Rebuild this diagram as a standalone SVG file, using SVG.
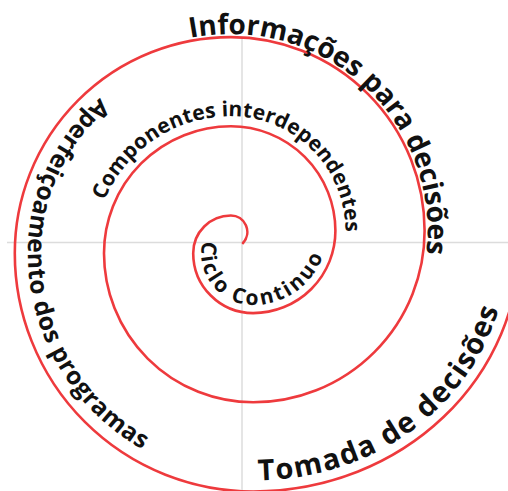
<svg xmlns="http://www.w3.org/2000/svg" xmlns:xlink="http://www.w3.org/1999/xlink" width="508" height="491" viewBox="0 0 508 491">
<style>
.axis{stroke:#dcdcdc;stroke-width:1.5;fill:none}
.spiral{stroke:#ee3a3d;stroke-width:2.6;fill:none;stroke-linecap:round}
.lbl{font-family:'Open Sans','Noto Sans','DejaVu Sans',sans-serif;font-weight:700;fill:#111}
</style>
<defs>
<path id="p1" d="M 11.8 253.15 A 219.05 219.05 0 0 1 230.85 34.1 A 196.75 196.75 0 0 1 427.6 230.85 A 174.45 174.45 0 0 1 253.15 405.3"/>
<path id="p2" d="M 230.85 50.1 A 203.05 203.05 0 0 0 27.8 253.15 A 225.35 225.35 0 0 0 253.15 478.5"/>
<path id="p3" d="M 253.15 480.5 C 395 480.5 513 378 509 230"/>
<path id="p4" d="M 94 253.15 A 136.85 136.85 0 0 1 230.85 116.3 A 114.55 114.55 0 0 1 345.4 230.85 A 92.25 92.25 0 0 1 253.15 323.1"/>
<path id="p5" d="M 230.85 223.5 A 29.65 29.65 0 0 0 201.2 253.15 A 51.95 51.95 0 0 0 253.15 305.1 A 74.25 74.25 0 0 0 327.4 230.85"/>
</defs>
<g id="axes">
<line class="axis" x1="7" y1="242.5" x2="508" y2="242.5"/>
<line class="axis" x1="242" y1="38" x2="242" y2="491"/>
</g>
<g id="spiral">
<path class="spiral" d="M 243 243 A 16.43 16.43 0 0 0 230.85 215.5 A 37.65 37.65 0 0 0 193.2 253.15 A 59.95 59.95 0 0 0 253.15 313.1 A 82.25 82.25 0 0 0 335.4 230.85 A 104.55 104.55 0 0 0 230.85 126.3 A 126.85 126.85 0 0 0 104 253.15 A 149.15 149.15 0 0 0 253.15 402.3 A 171.45 171.45 0 0 0 424.6 230.85 A 193.75 193.75 0 0 0 230.85 37.1 A 216.05 216.05 0 0 0 14.8 253.15 A 238.35 238.35 0 0 0 253.15 491.5 C 400 491.5 525 380 520 230"/>
</g>
<g id="labels">
<text id="t-informacoes" class="lbl" font-size="28"><textPath href="#p1" xlink:href="#p1" startOffset="303">Informações para decisões</textPath></text>
<text id="t-aperfeicoamento" class="lbl" font-size="24.5" letter-spacing="0.5"><textPath href="#p2" xlink:href="#p2" startOffset="142">Aperfeiçoamento dos programas</textPath></text>
<text id="t-tomada" class="lbl" font-size="29" letter-spacing="1.5"><textPath href="#p3" xlink:href="#p3" startOffset="5">Tomada de decisões</textPath></text>
<text id="t-componentes" class="lbl" font-size="21" letter-spacing="0.1"><textPath href="#p4" xlink:href="#p4" startOffset="54">Componentes interdependentes</textPath></text>
<text id="t-ciclo" class="lbl" font-size="21" letter-spacing="2.5"><textPath href="#p5" xlink:href="#p5" startOffset="34">Ciclo Continuo</textPath></text>
</g>
</svg>
